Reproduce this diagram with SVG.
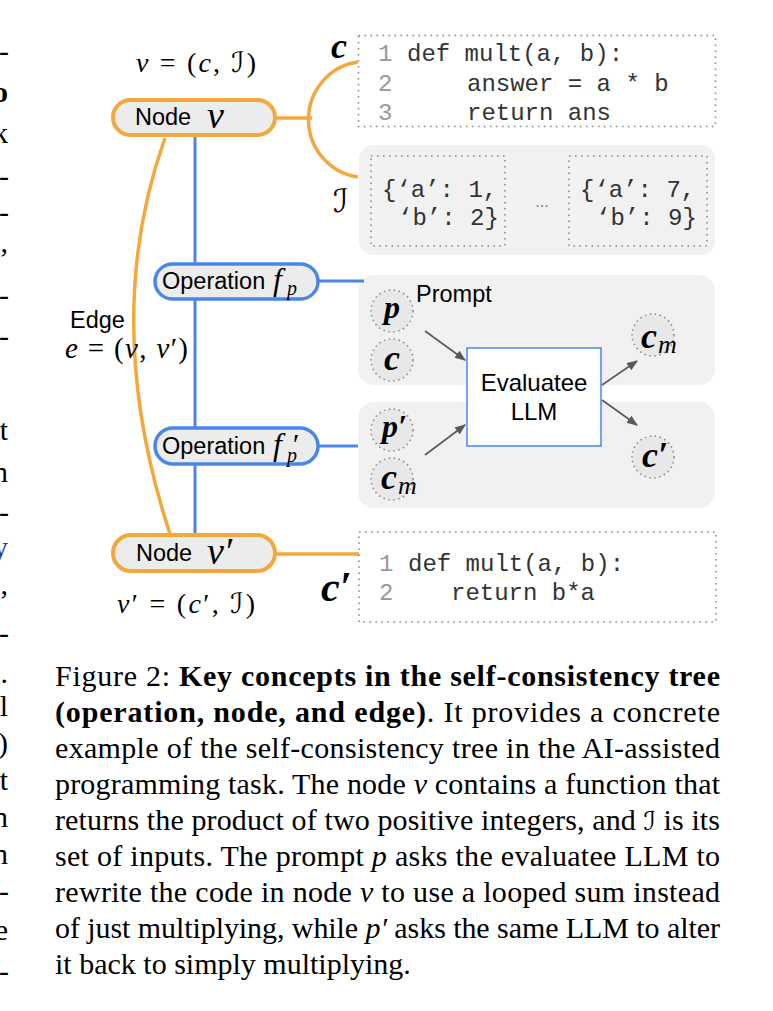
<svg xmlns="http://www.w3.org/2000/svg" width="773" height="1011" viewBox="0 0 773 1011">
<defs>
<style>
.sans{font-family:"Liberation Sans",Arial,sans-serif;fill:#000}
.lbl{font-size:23.5px}
.math{font-family:"Liberation Serif","Times New Roman",serif;font-style:italic;fill:#000}
.mb{font-family:"Liberation Serif","Times New Roman",serif;font-style:italic;font-weight:bold;fill:#000}
.up{font-style:normal;font-weight:normal}
.scr{font-family:"DejaVu Serif","DejaVu Sans",serif;font-style:normal}
.code{font-family:"Liberation Mono","Courier New",monospace;font-size:24px;fill:#333}
.ln{fill:#999}
.dot{fill:#fff;stroke:#8a8a8a;stroke-width:1.6;stroke-dasharray:1.6 4.4}
.doti{fill:none;stroke:#8a8a8a;stroke-width:1.6;stroke-dasharray:1.6 4.4}
.panel{fill:#f1f1f1}
.onode{fill:#ececec;stroke:#F3A83B;stroke-width:4}
.bnode{fill:#ececec;stroke:#4A86E8;stroke-width:3.5}
.oline{fill:none;stroke:#F3A83B;stroke-width:3.5}
.bline{fill:none;stroke:#4A86E8;stroke-width:3}
.arrow{stroke:#595959;stroke-width:1.6;fill:none;marker-end:url(#ah)}
.circ{fill:#e8e8e8;stroke:#8a8a8a;stroke-width:1.5;stroke-dasharray:1.5 3.5}
.cap{font-family:"Liberation Serif","Times New Roman",serif;font-size:30px;fill:#000}
.mg{font-family:"Liberation Serif","Times New Roman",serif;font-size:30px;fill:#000;text-anchor:end}
</style>
<marker id="ah" viewBox="0 0 10 10" refX="9" refY="5" markerWidth="11" markerHeight="11" markerUnits="userSpaceOnUse" orient="auto">
<path d="M0,1 L10,5 L0,9 z" fill="#595959"/>
</marker>
</defs>

<g id="margin">
<text class="mg" x="9" y="61">-</text>
<text class="mg" x="8" y="102" font-weight="bold">o</text>
<text class="mg" x="8" y="143">k</text>
<text class="mg" x="9" y="186" fill="#777">-</text>
<text class="mg" x="9" y="222">-</text>
<text class="mg" x="8" y="252">,</text>
<text class="mg" x="9" y="305">-</text>
<text class="mg" x="9" y="346">-</text>
<text class="mg" x="8" y="440">t</text>
<text class="mg" x="8" y="482">n</text>
<text class="mg" x="9" y="522">-</text>
<text class="mg" x="8" y="557" style="fill:#1f3d99">y</text>
<text class="mg" x="8" y="594">,</text>
<text class="mg" x="9" y="643">-</text>
<text class="mg" x="8" y="683">.</text>
<text class="mg" x="8" y="716">l</text>
<text class="mg" x="8" y="753">)</text>
<text class="mg" x="8" y="790">t</text>
<text class="mg" x="8" y="827">n</text>
<text class="mg" x="8" y="864">n</text>
<text class="mg" x="9" y="901">-</text>
<text class="mg" x="8" y="940">e</text>
<text class="mg" x="9" y="981">-</text>
</g>

<g id="panels">
<rect class="panel" x="359" y="145" width="356" height="110" rx="14"/>
<rect class="panel" x="358" y="275" width="357" height="110" rx="16"/>
<rect class="panel" x="358" y="402" width="357" height="106" rx="16"/>
</g>

<g id="connectors">
<path class="bline" d="M195 137 V534"/>
<path class="bline" d="M318 281 H364"/>
<path class="bline" d="M318 446 H358"/>
<path class="oline" d="M165 138 Q100 320 170 534"/>
<path class="oline" d="M276 118 H312"/>
<path class="oline" d="M358 62 A57 58 0 0 0 358 177"/>
<path class="oline" d="M276 554 H360"/>
<path class="arrow" d="M425 331 L465 360"/>
<path class="arrow" d="M425 455 L465 425"/>
<path class="arrow" d="M602 385 L637 361"/>
<path class="arrow" d="M602 400 L637 425"/>
</g>

<g id="node-v">
<rect class="onode" x="113" y="100" width="162" height="35" rx="17.5"/>
<text class="sans lbl" x="135" y="125">Node</text>
<text class="math" x="207" y="128" font-size="38">v</text>
<text class="math" x="136" y="72" font-size="28" textLength="120" lengthAdjust="spacing">v<tspan class="up"> = (</tspan>c<tspan class="up">, </tspan><tspan class="scr" font-style="italic">ℐ</tspan><tspan class="up">)</tspan></text>
</g>

<g id="code-c">
<rect class="dot" x="358.5" y="35.5" width="357" height="91"/>
<text class="mb" x="331" y="58" font-size="36">c</text>
<text class="code" y="61"><tspan class="ln" x="378">1</tspan><tspan x="407">def mult(a, b):</tspan></text>
<text class="code" y="91"><tspan class="ln" x="378">2</tspan><tspan x="467">answer = a * b</tspan></text>
<text class="code" y="120"><tspan class="ln" x="378">3</tspan><tspan x="467">return ans</tspan></text>
</g>

<g id="inputs-I">
<text class="scr" x="333" y="212" font-size="32" font-style="italic">ℐ</text>
<rect class="doti" x="371" y="156" width="134" height="90"/>
<rect class="doti" x="569" y="156" width="138" height="90"/>
<text class="code" x="382" y="197">{‘a’: 1,</text>
<text class="code" x="398" y="225">‘b’: 2}</text>
<text class="sans" x="542" y="207" font-size="16" text-anchor="middle" style="fill:#777">...</text>
<text class="code" x="580" y="197">{‘a’: 7,</text>
<text class="code" x="596" y="225">‘b’: 9}</text>
</g>

<g id="op-fp">
<rect class="bnode" x="155" y="264" width="163" height="35" rx="17.5"/>
<text class="sans lbl" x="162" y="289">Operation</text>
<text class="math" x="273" y="290" font-size="32">f</text>
<text class="math" x="287" y="295" font-size="20">p</text>
</g>

<g id="op-fp2">
<rect class="bnode" x="155" y="428" width="163" height="36" rx="18"/>
<text class="sans lbl" x="162" y="454">Operation</text>
<text class="math" x="273" y="455" font-size="32">f</text>
<text class="math" x="291" y="454" font-size="30">′</text>
<text class="math" x="287" y="462" font-size="20">p</text>
</g>

<g id="edge-label">
<text class="sans lbl" x="70" y="328">Edge</text>
<text class="math" x="65" y="358" font-size="29" textLength="123" lengthAdjust="spacing">e<tspan class="up"> = (</tspan>v<tspan class="up">, </tspan>v<tspan class="up">′)</tspan></text>
</g>

<g id="node-v2">
<rect class="onode" x="113" y="535" width="162" height="36" rx="18"/>
<text class="sans lbl" x="136" y="561">Node</text>
<text class="math" x="207" y="564" font-size="38">v′</text>
<text class="math" x="117" y="613" font-size="28" textLength="138" lengthAdjust="spacing">v<tspan class="up">′ = (</tspan>c<tspan class="up">′, </tspan><tspan class="scr" font-style="italic">ℐ</tspan><tspan class="up">)</tspan></text>
</g>

<g id="prompt-p">
<circle class="circ" cx="392" cy="311" r="21"/>
<text class="mb" x="392" y="318" font-size="32" text-anchor="middle">p</text>
<text class="sans lbl" x="416" y="302">Prompt</text>
</g>
<g id="input-c">
<circle class="circ" cx="392" cy="360" r="21"/>
<text class="mb" x="392" y="370" font-size="36" text-anchor="middle">c</text>
</g>
<g id="prompt-p2">
<circle class="circ" cx="392" cy="430" r="21"/>
<text class="mb" x="382" y="437" font-size="32">p′</text>
</g>
<g id="input-cm">
<circle class="circ" cx="392" cy="479" r="21"/>
<text class="mb" x="381" y="489" font-size="36">c</text>
<text class="math" x="398" y="494" font-size="26">m</text>
</g>

<g id="llm">
<rect x="467" y="348" width="134" height="98" fill="#fff" stroke="#4A86E8" stroke-width="1.5"/>
<text class="sans" x="534" y="391" font-size="24" text-anchor="middle">Evaluatee</text>
<text class="sans" x="534" y="420" font-size="24" text-anchor="middle">LLM</text>
</g>

<g id="out-cm">
<circle class="circ" cx="653" cy="335" r="21"/>
<text class="mb" x="641" y="348" font-size="36">c</text>
<text class="math" x="658" y="353" font-size="26">m</text>
</g>
<g id="out-c2">
<circle class="circ" cx="653" cy="457" r="21"/>
<text class="mb" x="642" y="467" font-size="36">c′</text>
</g>

<g id="code-c2">
<rect class="dot" x="359" y="532" width="357" height="90"/>
<text class="mb" x="321" y="601" font-size="42">c′</text>
<text class="code" y="571"><tspan class="ln" x="379">1</tspan><tspan x="408">def mult(a, b):</tspan></text>
<text class="code" y="600"><tspan class="ln" x="379">2</tspan><tspan x="451">return b*a</tspan></text>
</g>

<g id="caption">
<text class="cap" x="55" y="686" textLength="665" lengthAdjust="spacing">Figure 2: <tspan font-weight="bold">Key concepts in the self-consistency tree</tspan></text>
<text class="cap" x="55" y="722" textLength="665" lengthAdjust="spacing"><tspan font-weight="bold">(operation, node, and edge)</tspan>.  It provides a concrete</text>
<text class="cap" x="55" y="758" textLength="665" lengthAdjust="spacing">example of the self-consistency tree in the AI-assisted</text>
<text class="cap" x="55" y="794" textLength="665" lengthAdjust="spacing">programming task. The node <tspan font-style="italic">v</tspan> contains a function that</text>
<text class="cap" x="55" y="830" textLength="665" lengthAdjust="spacing">returns the product of two positive integers, and <tspan class="scr" font-size="26" font-style="italic">ℐ</tspan> is its</text>
<text class="cap" x="55" y="866" textLength="665" lengthAdjust="spacing">set of inputs. The prompt <tspan font-style="italic">p</tspan> asks the evaluatee LLM to</text>
<text class="cap" x="55" y="902" textLength="665" lengthAdjust="spacing">rewrite the code in node <tspan font-style="italic">v</tspan> to use a looped sum instead</text>
<text class="cap" x="55" y="938" textLength="665" lengthAdjust="spacing">of just multiplying, while <tspan font-style="italic">p′</tspan> asks the same LLM to alter</text>
<text class="cap" x="55" y="974">it back to simply multiplying.</text>
</g>
</svg>
